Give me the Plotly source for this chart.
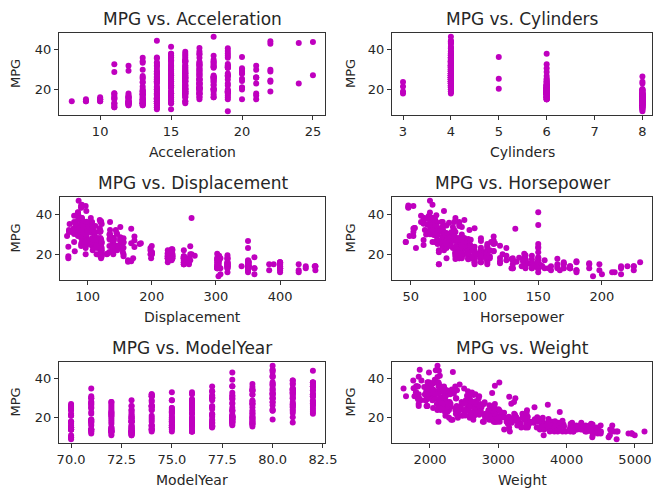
import numpy as np
import plotly.graph_objects as go

# ---------------- data (auto-mpg, grouped by model year) ----------------
mpg = [
 18,15,18,16,17,15,14,14,14,15,15,14,15,14,24,22,18,21,27,26,25,24,25,26,21,10,10,11,9,
 27,28,25,25,19,16,17,19,18,14,14,14,14,12,13,13,18,22,19,18,23,28,30,30,31,35,27,26,
 24,25,23,20,21,13,14,15,14,17,11,13,12,13,19,15,13,13,14,18,22,21,26,22,28,23,28,27,
 13,14,13,14,15,12,13,13,14,13,12,13,18,16,18,18,23,26,11,12,13,12,18,20,21,22,18,19,21,26,15,16,29,24,20,19,15,24,20,11,
 20,21,19,15,31,26,32,25,16,16,18,16,13,14,14,14,29,26,26,31,32,28,24,26,24,26,31,
 19,18,15,15,16,15,16,14,17,16,15,18,21,20,13,29,23,20,23,24,25,24,18,29,19,23,23,22,25,33,
 28,25,25,26,27,17.5,16,15.5,14.5,22,22,24,22.5,29,24.5,29,33,20,18,18.5,17.5,29.5,32,28,26.5,20,13,19,19,16.5,16.5,13,13,13,
 31.5,30,36,25.5,33.5,17.5,17,15.5,15,17.5,20.5,19,18.5,16,15.5,15.5,16,29,24.5,26,25.5,30.5,33.5,30,30.5,22,21.5,21.5,
 43.1,36.1,32.8,39.4,36.1,19.9,19.4,20.2,19.2,20.5,20.2,25.1,20.5,19.4,20.6,20.8,18.6,18.1,19.2,17.7,18.1,17.5,30,27.5,27.2,30.9,21.1,23.2,23.8,23.9,20.3,17,21.6,16.2,31.5,29.5,
 21.5,19.8,22.3,20.2,20.6,17,17.6,16.5,18.2,16.9,15.5,19.2,18.5,31.9,34.1,35.7,27.4,25.4,23,27.2,23.9,34.2,34.5,31.8,37.3,28.4,28.8,26.8,33.5,
 41.5,38.1,32.1,37.2,28,26.4,24.3,19.1,34.3,29.8,31.3,37,32.2,46.6,27.9,40.8,44.3,43.4,36.4,30,44.6,40.9,33.8,29.8,32.7,23.7,35,23.6,32.4,
 27.2,26.6,25.8,23.5,30,39.1,39,35.1,32.3,37,37.7,34.1,34.7,34.4,29.9,33,34.5,33.7,32.4,32.9,31.6,28.1,30.7,25.4,24.2,22.4,26.6,20.2,17.6,
 28,27,34,31,29,27,24,23,36,37,31,38,36,36,36,34,38,32,38,25,38,26,22,32,36,27,27,44,32,28,31,
]

cylinders = [
 8,8,8,8,8,8,8,8,8,8,8,8,8,8,4,6,6,6,4,4,4,4,4,4,6,8,8,8,8,
 4,4,4,4,6,6,6,6,6,8,8,8,8,8,8,8,6,4,6,6,4,4,4,4,4,4,4,4,
 4,4,4,4,4,8,8,8,8,8,8,8,8,8,3,8,8,8,8,4,4,4,4,4,4,4,4,4,
 8,8,8,8,8,8,8,8,8,8,8,8,6,6,6,6,6,4,8,8,8,8,6,4,4,4,3,4,6,4,8,8,4,4,4,4,8,4,6,8,
 6,6,6,6,4,4,4,4,6,6,6,8,8,8,8,8,4,4,4,4,4,4,4,4,4,4,4,
 6,6,6,6,8,8,8,8,6,6,6,6,6,8,8,4,4,6,4,4,4,4,6,4,6,4,4,4,4,4,
 4,4,4,4,4,8,8,8,8,6,6,6,6,4,4,4,4,6,6,6,6,4,4,4,4,4,8,4,6,6,8,8,8,8,
 4,4,4,4,4,8,8,8,8,6,6,6,6,8,8,8,8,4,4,4,4,4,4,4,4,6,4,3,
 4,4,4,4,4,8,8,8,6,6,6,4,6,6,6,6,6,6,8,6,8,8,4,4,4,4,4,4,4,4,5,6,4,6,4,4,
 6,6,4,6,6,8,8,8,8,8,8,8,8,4,4,4,4,5,8,4,8,4,4,4,4,4,6,6,4,
 4,4,4,4,4,4,4,6,4,4,4,4,4,4,4,4,4,4,5,4,4,4,4,4,6,3,4,4,4,
 4,4,4,6,4,4,4,4,4,4,4,4,4,4,4,4,4,4,4,4,4,4,6,6,6,6,8,6,6,
 4,4,4,4,4,4,4,4,4,4,4,4,4,4,4,4,4,4,4,6,6,4,6,4,4,4,4,4,4,4,4,
]

displacement = [
 307,350,318,304,302,429,454,440,455,390,383,340,400,455,113,198,199,200,97,97,110,107,104,121,199,360,307,318,304,
 97,140,113,98,232,225,250,250,232,350,400,351,318,383,400,400,258,140,250,250,122,116,79,88,71,72,97,91,
 113,97.5,97,140,122,350,400,318,351,304,429,350,350,400,70,304,307,302,318,121,121,120,96,122,97,120,98,97,
 350,304,350,302,318,429,400,351,318,440,455,360,225,250,232,250,198,97,400,400,360,350,232,97,140,108,70,122,155,98,350,400,68,116,114,121,318,121,156,350,
 198,200,232,250,79,122,71,140,250,258,225,302,350,318,302,304,98,79,97,76,83,90,90,116,120,108,79,
 225,250,250,250,400,350,318,351,231,250,258,225,231,262,302,97,140,232,140,134,90,119,171,90,232,115,120,121,121,91,
 107,116,140,98,101,305,318,304,351,225,250,200,232,85,98,90,91,225,250,250,258,97,85,97,140,130,318,120,156,168,350,350,302,318,
 98,111,79,122,85,305,260,318,302,250,231,225,250,400,350,400,351,97,151,97,140,98,98,97,97,146,121,80,
 90,98,78,85,91,260,318,302,231,200,200,140,225,232,231,200,225,258,305,231,302,318,98,134,119,105,134,156,151,119,131,163,121,163,89,98,
 231,200,140,232,225,305,302,351,318,350,351,267,360,89,86,98,121,183,350,141,260,105,105,85,91,151,173,173,151,
 98,89,98,86,151,140,151,225,97,134,120,119,108,86,156,85,90,90,121,146,91,85,97,89,168,70,122,140,107,
 135,151,156,173,135,79,86,81,97,85,89,91,105,98,98,105,100,107,108,119,120,141,145,168,146,231,350,200,225,
 112,112,112,112,135,151,140,151,105,91,91,105,98,120,107,108,91,91,91,181,262,156,232,144,135,151,140,97,135,120,119,
]

horsepower = [
 130,165,150,150,140,198,220,215,225,190,170,160,150,225,95,95,97,85,88,46,87,90,95,113,90,215,200,210,193,
 88,90,95,None,100,105,100,88,100,165,175,153,150,180,170,175,110,72,100,88,86,90,70,76,65,69,60,70,
 95,80,54,90,86,165,175,150,153,150,208,155,160,190,97,150,130,140,150,112,76,87,69,86,92,97,80,88,
 175,150,145,137,150,198,150,158,150,215,225,175,105,100,100,88,95,46,150,167,170,180,100,88,72,94,90,85,107,90,145,230,49,75,91,112,150,110,122,180,
 95,None,100,100,67,80,65,75,100,110,105,140,150,150,140,150,83,67,78,52,61,75,75,75,97,93,67,
 95,105,72,72,170,145,150,148,110,105,110,95,110,110,129,75,83,100,78,96,71,97,97,70,90,95,88,98,115,53,
 86,81,92,79,83,140,150,120,152,100,105,81,90,52,60,70,53,100,78,110,95,71,70,75,72,102,150,88,108,120,180,145,130,150,
 68,80,58,96,70,145,110,145,130,110,105,100,98,180,170,190,149,78,88,75,89,63,83,67,78,97,110,110,
 48,66,52,70,60,110,140,139,105,95,85,88,100,90,105,85,110,120,145,165,139,140,68,95,97,75,95,105,85,97,103,125,115,133,71,68,
 115,85,88,90,110,130,129,138,135,155,142,125,150,71,65,80,80,77,125,71,90,70,70,65,69,90,115,115,90,
 76,60,70,65,90,88,90,90,78,90,75,92,75,65,105,65,48,48,67,67,67,None,67,62,132,100,88,None,72,
 84,84,92,110,84,58,64,60,67,65,62,68,63,65,65,74,None,75,75,100,74,80,76,116,120,110,105,88,85,
 88,88,88,85,84,90,92,None,74,68,68,63,70,88,75,70,67,67,67,110,85,92,112,96,84,90,86,52,84,79,82,
]
HP_FILL = 150  # missing horsepower shown at the column mode (150)

weight = [
 3504,3693,3436,3433,3449,4341,4354,4312,4425,3850,3563,3609,3761,3086,2372,2833,2774,2587,2130,1835,2672,2430,2375,2234,2648,4615,4376,4382,4732,
 2130,2264,2228,2046,2634,3439,3329,3302,3288,4209,4464,4154,4096,4955,4746,5140,2962,2408,3282,3139,2220,2123,2074,2065,1773,1613,1834,1955,
 2278,2126,2254,2408,2226,4274,4385,4135,4129,3672,4633,4502,4456,4422,2330,3892,4098,4294,4077,2933,2511,2979,2189,2395,2288,2506,2164,2100,
 4100,3672,3988,4042,3777,4952,4464,4363,4237,4735,4951,3821,3121,3278,2945,3021,2904,1950,4997,4906,4654,4499,2789,2279,2401,2379,2124,2310,2472,2265,4082,4278,1867,2158,2582,2868,3399,2660,2807,3664,
 3102,2875,2901,3336,1950,2451,1836,2542,3781,3632,3613,4141,4699,4457,4638,4257,2219,1963,2300,1649,2003,2125,2108,2246,2489,2391,2000,
 3264,3459,3432,3158,4668,4440,4498,4657,3907,3897,3730,3785,3039,3221,3169,2171,2639,2914,2592,2702,2223,2545,2984,1937,3211,2694,2957,2945,2671,1795,
 2464,2220,2572,2255,2202,4215,4190,3962,4215,3233,3353,3012,3085,2035,2164,1937,1795,3651,3574,3645,3193,1825,1990,2155,2565,3150,3940,3270,2930,3820,4380,4055,3870,3755,
 2045,2155,1825,2300,1945,3880,4060,4140,4295,3520,3425,3630,3525,4220,4165,4325,4335,1940,2740,2265,2755,2051,2075,1985,2190,2815,2600,2720,
 1985,1800,1985,2070,1800,3365,3735,3570,3535,3155,2965,2720,3430,3210,3380,3070,3620,3410,3425,3445,3205,4080,2155,2560,2300,2230,2515,2745,2855,2405,2830,3140,2795,3410,1990,2135,
 3245,2990,2890,3265,3360,3840,3725,3955,3830,4360,4054,3605,3940,1925,1975,1915,2670,3530,3900,3190,3420,2200,2150,2020,2130,2670,2595,2700,2556,
 2144,1968,2120,2019,2678,2870,3003,3381,2188,2711,2542,2434,2265,2110,2800,2110,2085,2335,2950,3250,1850,1835,2145,1845,2910,2420,2500,2905,2290,
 2490,2635,2620,2725,2385,1755,1875,1760,2065,1975,2050,1985,2215,2045,2380,2190,2320,2210,2350,2615,2635,3230,3160,2900,2930,3415,3725,3060,3465,
 2605,2640,2395,2575,2525,2735,2865,3035,1980,2025,1970,2125,2125,2160,2205,2245,1965,1965,1995,2945,3015,2585,2835,2665,2370,2950,2790,2130,2295,2625,2720,
]

acceleration = [
 12.0,11.5,11.0,12.0,10.5,10.0,9.0,8.5,10.0,8.5,10.0,8.0,9.5,10.0,15.0,15.5,15.5,16.0,14.5,20.5,17.5,14.5,17.5,12.5,15.0,14.0,15.0,13.5,18.5,
 14.5,15.5,14.0,19.0,13.0,15.5,15.5,15.5,15.5,12.0,11.5,13.5,13.0,11.5,12.0,12.0,13.5,19.0,15.0,14.5,14.0,14.0,19.5,14.5,19.0,18.0,19.0,20.5,
 15.5,17.0,23.5,19.5,16.5,12.0,12.0,13.5,13.0,11.5,11.0,13.5,13.5,12.5,13.5,12.5,14.0,16.0,14.0,14.5,18.0,19.5,18.0,16.0,17.0,14.5,15.0,16.5,
 13.0,11.5,13.0,14.5,12.5,11.5,12.0,13.0,14.5,11.0,11.0,11.0,16.5,18.0,16.0,16.5,16.0,21.0,14.0,12.5,13.0,12.5,15.0,19.0,19.5,16.5,13.5,18.5,14.0,15.5,13.0,9.5,19.5,15.5,14.0,15.5,11.0,14.0,13.5,11.0,
 16.5,17.0,16.0,17.0,19.0,16.5,21.0,17.0,17.0,18.0,16.5,14.0,14.5,13.5,16.0,15.5,16.5,15.5,14.5,16.5,19.0,14.5,15.5,14.0,15.0,15.5,16.0,
 16.0,16.0,21.0,19.5,11.5,14.0,14.5,13.5,21.0,18.5,19.0,19.0,15.0,13.5,12.0,16.0,17.0,16.0,18.5,13.5,16.5,17.0,14.5,14.0,17.0,15.0,17.0,14.5,13.5,17.5,
 15.5,16.9,14.9,17.7,15.3,13.0,13.0,13.9,12.8,15.4,14.5,17.6,17.6,22.2,22.1,14.2,17.4,17.7,21.0,16.2,17.8,12.2,17.0,16.4,13.6,15.7,13.2,21.9,15.5,16.7,12.1,12.0,15.0,14.0,
 18.5,14.8,18.6,15.5,16.8,12.5,19.0,13.7,14.9,16.4,16.9,17.7,19.0,11.1,11.4,12.2,14.5,14.5,16.0,18.2,15.8,17.0,15.9,16.4,14.1,14.5,12.8,13.5,
 21.5,14.4,19.4,18.6,16.4,15.5,13.2,12.8,19.2,18.2,15.8,15.4,17.2,17.2,15.8,16.7,18.7,15.1,13.2,13.4,11.2,13.7,16.5,14.2,14.7,14.5,14.8,16.7,17.6,14.9,15.9,13.6,15.7,15.8,14.9,16.6,
 15.4,18.2,17.3,18.2,16.6,15.4,13.4,13.2,15.2,14.9,14.3,15.0,13.0,14.0,15.2,14.4,15.0,20.1,17.4,24.8,22.2,13.2,14.9,19.2,14.7,16.0,11.3,12.9,13.2,
 14.7,18.8,15.5,16.4,16.5,18.1,20.1,18.7,15.8,15.5,17.5,15.0,15.2,17.9,14.4,19.2,21.7,23.7,19.9,21.8,13.8,17.3,18.0,15.3,11.4,12.5,15.1,14.3,17.0,
 15.7,16.4,14.4,12.6,12.9,16.9,16.4,16.1,17.8,19.4,17.3,16.0,14.9,16.2,20.7,14.2,15.8,14.4,16.8,14.8,18.3,20.4,19.6,12.6,13.8,15.8,19.0,17.1,16.6,
 19.6,18.6,18.0,16.2,16.0,18.0,16.4,20.5,15.3,18.2,17.6,14.7,17.3,14.5,14.5,16.9,15.0,15.7,16.2,16.4,17.0,14.5,14.7,13.9,13.0,17.3,15.6,24.6,11.6,18.6,19.4,
]

model_year = ([70]*29 + [71]*28 + [72]*28 + [73]*40 + [74]*27 + [75]*30 + [76]*34 +
              [77]*28 + [78]*36 + [79]*29 + [80]*29 + [81]*29 + [82]*31)

# acceleration is shown rounded to whole seconds (half up)
accel_shown = np.floor(np.array(acceleration) + 0.5)
hp_shown = [h if h is not None else HP_FILL for h in horsepower]

W, H = 655, 488
COLOR = "#bf00bf"
FONT = "DejaVu Sans, sans-serif"
TXT = "#262626"

panels = [
    # name, x values, px box (l, r, t, b), x range, dtick, tickformat
    ("Acceleration", accel_shown, (59, 325, 33, 115), [7.1, 25.85], 5, None),
    ("Cylinders", cylinders, (392, 652, 33, 115), [2.77, 8.2], 1, None),
    ("Displacement", displacement, (60, 325, 197, 280), [57, 470], 100, None),
    ("Horsepower", hp_shown, (392, 652, 197, 280), [35.2, 239.3], 50, None),
    ("ModelYear", model_year, (59, 325, 362, 443), [69.4, 82.6], 2.5, ".1f"),
    ("Weight", weight, (392, 652, 362, 443), [1444, 5250], 1000, None),
]

fig = go.Figure()
annotations = []
for i, (name, xs, (l, r, t, b), xr, dt, tf) in enumerate(panels, start=1):
    xa = "x" if i == 1 else f"x{i}"
    ya = "y" if i == 1 else f"y{i}"
    fig.add_trace(go.Scatter(
        x=list(xs), y=mpg, mode="markers", xaxis=xa, yaxis=ya,
        marker=dict(color=COLOR, size=6, line=dict(width=0)),
        showlegend=False, hoverinfo="skip"))
    axis_common = dict(showline=True, mirror=True, linecolor="#333333", linewidth=1,
                       ticks="outside", ticklen=4, tickwidth=1, tickcolor="#333333",
                       showgrid=False, zeroline=False, automargin=False,
                       tickfont=dict(family=FONT, size=13, color=TXT))
    xkey = "xaxis" if i == 1 else f"xaxis{i}"
    ykey = "yaxis" if i == 1 else f"yaxis{i}"
    xdict = dict(domain=[l / W, r / W], range=xr, dtick=dt, anchor=ya, **axis_common)
    if tf:
        xdict["tickformat"] = tf
    ydict = dict(domain=[1 - b / H, 1 - t / H], range=[7.1, 48.5], dtick=20,
                 tick0=0, anchor=xa, **axis_common)
    fig.update_layout({xkey: xdict, ykey: ydict})
    cx = (l + r) / 2 / W
    annotations.append(dict(text=f"MPG vs. {name}", x=cx, y=1 - t / H, xref="paper", yref="paper",
                            xanchor="center", yanchor="middle", yshift=14, showarrow=False,
                            font=dict(family=FONT, size=17, color=TXT)))
    annotations.append(dict(text=name, x=cx, y=1 - b / H, xref="paper", yref="paper",
                            xanchor="center", yanchor="middle", yshift=-37, showarrow=False,
                            font=dict(family=FONT, size=14, color=TXT)))
    annotations.append(dict(text="MPG", x=(15 if l < 100 else 350) / W, y=1 - (t + b) / 2 / H,
                            xref="paper", yref="paper", xanchor="center", yanchor="middle",
                            showarrow=False, textangle=-90,
                            font=dict(family=FONT, size=13, color=TXT)))

fig.update_layout(width=W, height=H, margin=dict(l=0, r=0, t=0, b=0, pad=0),
                  paper_bgcolor="white", plot_bgcolor="white", autosize=False,
                  annotations=annotations, font=dict(family=FONT, color=TXT))

fig.write_html("out.html", config={"displayModeBar": False},
               post_script="document.body.style.margin='0px';document.body.style.overflow='hidden';")
